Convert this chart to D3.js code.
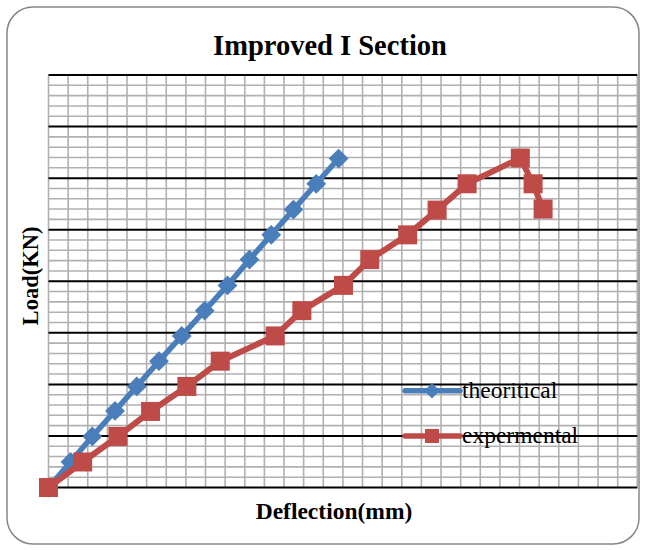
<!DOCTYPE html>
<html>
<head>
<meta charset="utf-8">
<script src="https://cdn.jsdelivr.net/npm/d3@7"></script>
<style>
  html, body { margin: 0; padding: 0; background: #fff; }
  svg { display: block; }
</style>
</head>
<body>
<svg id="chart" width="646" height="550"></svg>
<script>
// Load steps (kN) shared by both series: 0.5 t increments
const loadTheoretical = [0, 4.95, 9.9, 14.85, 19.6, 24.5, 29.4, 34.3, 39.2, 44.2, 49.0, 53.9, 58.9, 63.8];
const deflTheoretical = [0, 1.12, 2.23, 3.39, 4.50, 5.63, 6.79, 7.96, 9.12, 10.24, 11.35, 12.48, 13.64, 14.78];

const loadExperimental = [0, 4.95, 9.9, 14.75, 19.6, 24.5, 29.4, 34.3, 39.2, 44.2, 49.0, 53.8, 58.9, 63.9, 58.9, 54.0];
const deflExperimental = [0, 1.74, 3.54, 5.20, 7.05, 8.75, 11.55, 12.91, 15.03, 16.37, 18.30, 19.80, 21.33, 24.04, 24.69, 25.20];

const seriesNames = ["theoritical", "expermental"];
const xDomain = [0, 30];
const yDomain = [0, 80];
const xGridStep = 1;
const yMinorStep = 2;
const yMajorStep = 10;

const svg = d3.select("#chart");
const serif = "'Liberation Serif', 'Times New Roman', serif";
const blue = "#4A7EBB";
const red = "#BE4B48";

// outer frame
svg.append("rect")
  .attr("x", 7).attr("y", 7).attr("width", 632).attr("height", 537)
  .attr("rx", 26).attr("ry", 26)
  .attr("fill", "#fff").attr("stroke", "#868686").attr("stroke-width", 1.5);

const plot = { left: 48.5, right: 637.3, top: 75, bottom: 487.5 };
const x = d3.scaleLinear().domain(xDomain).range([plot.left, plot.right]);
const y = d3.scaleLinear().domain(yDomain).range([plot.bottom, plot.top]);

// vertical grid
const xTicks = d3.range(xDomain[0], xDomain[1] + xGridStep / 2, xGridStep);
svg.append("g").selectAll("line").data(xTicks).join("line")
  .attr("x1", d => x(d)).attr("x2", d => x(d))
  .attr("y1", plot.top).attr("y2", plot.bottom)
  .attr("stroke", "#B0B0B0").attr("stroke-width", 1.6);

// horizontal minor grid
const yMinor = d3.range(yDomain[0], yDomain[1] + yMinorStep / 2, yMinorStep)
  .filter(v => Math.abs(v % yMajorStep) > 1e-9);
svg.append("g").selectAll("line").data(yMinor).join("line")
  .attr("x1", plot.left).attr("x2", plot.right)
  .attr("y1", d => y(d)).attr("y2", d => y(d))
  .attr("stroke", "#B0B0B0").attr("stroke-width", 1.6);

// horizontal major grid
const yMajor = d3.range(yDomain[0], yDomain[1] + yMajorStep / 2, yMajorStep);
svg.append("g").selectAll("line").data(yMajor).join("line")
  .attr("x1", plot.left).attr("x2", plot.right)
  .attr("y1", d => y(d)).attr("y2", d => y(d))
  .attr("stroke", "#000").attr("stroke-width", 2);

// series
const line = d3.line().x(d => x(d[0])).y(d => y(d[1]));
const theo = deflTheoretical.map((d, i) => [d, loadTheoretical[i]]);
const expt = deflExperimental.map((d, i) => [d, loadExperimental[i]]);

svg.append("path").datum(theo).attr("d", line)
  .attr("fill", "none").attr("stroke", blue).attr("stroke-width", 5.5)
  .attr("stroke-linejoin", "round");
svg.append("g").selectAll("rect").data(theo).join("rect")
  .attr("x", -7).attr("y", -7).attr("width", 14).attr("height", 14)
  .attr("transform", d => `translate(${x(d[0])},${y(d[1])}) rotate(45)`)
  .attr("fill", blue);

svg.append("path").datum(expt).attr("d", line)
  .attr("fill", "none").attr("stroke", red).attr("stroke-width", 6)
  .attr("stroke-linejoin", "round");
svg.append("g").selectAll("rect").data(expt).join("rect")
  .attr("x", d => x(d[0]) - 9.5).attr("y", d => y(d[1]) - 9.5)
  .attr("width", 19).attr("height", 19)
  .attr("fill", red);

// legend
const legend = svg.append("g");
const legendRows = [
  { name: seriesNames[0], color: blue, shape: "diamond", y: 390.7 },
  { name: seriesNames[1], color: red, shape: "square", y: 436 }
];
legendRows.forEach(r => {
  legend.append("line")
    .attr("x1", 405).attr("x2", 460).attr("y1", r.y).attr("y2", r.y)
    .attr("stroke", r.color).attr("stroke-width", 5.5).attr("stroke-linecap", "round");
  if (r.shape === "diamond") {
    legend.append("rect").attr("x", -5.5).attr("y", -5.5).attr("width", 11).attr("height", 11)
      .attr("transform", `translate(432,${r.y}) rotate(45)`).attr("fill", r.color);
  } else {
    legend.append("rect").attr("x", 425).attr("y", r.y - 7).attr("width", 14).attr("height", 14)
      .attr("fill", r.color);
  }
  legend.append("text")
    .attr("x", 462).attr("y", r.y + 7)
    .attr("font-family", serif).attr("font-size", 23.5)
    .attr("fill", "#000").text(r.name);
});

// titles
svg.append("text")
  .attr("x", 330).attr("y", 55).attr("text-anchor", "middle")
  .attr("font-family", serif).attr("font-weight", "bold").attr("font-size", 28.5)
  .text("Improved I Section");

svg.append("text")
  .attr("x", 334).attr("y", 519).attr("text-anchor", "middle")
  .attr("font-family", serif).attr("font-weight", "bold").attr("font-size", 23.5)
  .text("Deflection(mm)");

svg.append("text")
  .attr("transform", "translate(38,276) rotate(-90)").attr("text-anchor", "middle")
  .attr("font-family", serif).attr("font-weight", "bold").attr("font-size", 22.5)
  .text("Load(KN)");
</script>
</body>
</html>
